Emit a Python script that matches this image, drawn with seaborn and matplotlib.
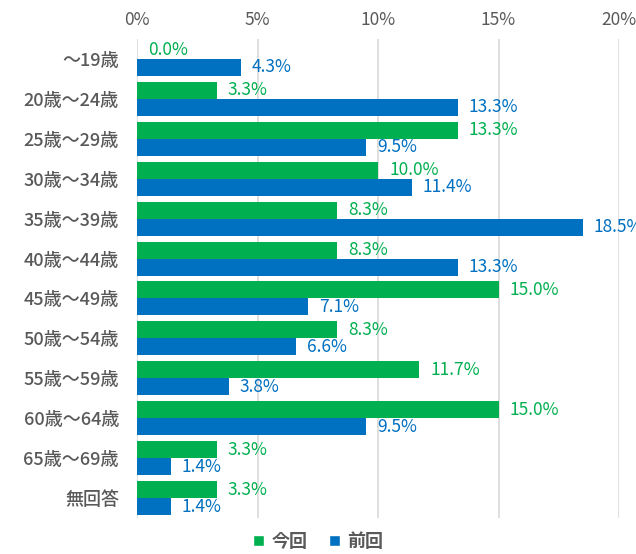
import matplotlib
matplotlib.use("Agg")
import matplotlib.pyplot as plt
import seaborn as sns
import pandas as pd
from matplotlib.patches import Patch

categories = ["～19歳", "20歳～24歳", "25歳～29歳", "30歳～34歳", "35歳～39歳",
              "40歳～44歳", "45歳～49歳", "50歳～54歳", "55歳～59歳", "60歳～64歳",
              "65歳～69歳", "無回答"]
current = [0.0, 3.3, 13.3, 10.0, 8.3, 8.3, 15.0, 8.3, 11.7, 15.0, 3.3, 3.3]
previous = [4.3, 13.3, 9.5, 11.4, 18.5, 13.3, 7.1, 6.6, 3.8, 9.5, 1.4, 1.4]
series_names = ["今回", "前回"]
x_ticks = [0, 5, 10, 15, 20]

GREEN = "#00B050"
BLUE = "#0070C0"
GRAY = "#595959"

sns.set_theme(style="white")
plt.rcParams["font.family"] = ["Noto Sans CJK JP", "DejaVu Sans"]

df = pd.DataFrame({
    "category": categories * 2,
    "value": current + previous,
    "series": [series_names[0]] * len(categories) + [series_names[1]] * len(categories),
})

fig = plt.figure(figsize=(6.36, 5.54), dpi=100)
ax = fig.add_axes([0.2154, 0.065, 0.7579, 0.8646])

sns.barplot(data=df, y="category", x="value", hue="series", orient="h",
            palette=[GREEN, BLUE], width=0.85, linewidth=0, saturation=1,
            legend=False, ax=ax)

ax.set_xlim(0, 20)
ax.set_ylim(len(categories) - 0.5, -0.5)
ax.set_xticks(x_ticks)
ax.set_xticklabels([f"{t}%" for t in x_ticks])
ax.xaxis.tick_top()
ax.tick_params(axis="x", length=0, pad=7, labelsize=12.5, labelcolor=GRAY)
ax.tick_params(axis="y", length=0, pad=13, labelsize=13, labelcolor=GRAY)
for lbl in ax.get_yticklabels():
    lbl.set_fontweight("medium")
ax.set_xlabel("")
ax.set_ylabel("")
for s in ax.spines.values():
    s.set_visible(False)
ax.grid(axis="x", color="#d9d9d9", linewidth=1.2)
ax.set_axisbelow(True)

# value labels next to each bar
for container, color in zip(ax.containers, [GREEN, BLUE]):
    for bar in container:
        w = bar.get_width()
        y = bar.get_y() + bar.get_height() / 2
        ax.annotate(f"{w:.1f}%", xy=(w, y), xytext=(8, 0), textcoords="offset points",
                    ha="left", va="center", fontsize=12.5, color=color,
                    annotation_clip=False, clip_on=False)

handles = [Patch(facecolor=GREEN, label=series_names[0]),
           Patch(facecolor=BLUE, label=series_names[1])]
leg = fig.legend(handles=handles, loc="center", bbox_to_anchor=(0.5, 0.023), ncol=2,
                 frameon=False, handlelength=0.6, handleheight=0.6, handletextpad=0.4,
                 columnspacing=1.2, prop={"size": 13, "weight": "bold"})
for t in leg.get_texts():
    t.set_color(GRAY)

fig.savefig("out.png", dpi=100)
